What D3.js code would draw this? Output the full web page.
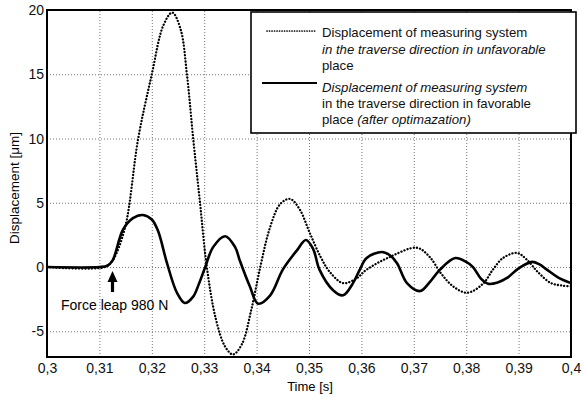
<!DOCTYPE html>
<html>
<head>
<meta charset="utf-8">
<script src="https://cdn.jsdelivr.net/npm/d3@7"></script>
<style>
  body { margin: 0; background: #fff; }
  svg { font-family: "Liberation Sans", Arial, sans-serif; }
  .grid line { stroke: #666; stroke-width: 0.9; stroke-dasharray: 1 2; }
  .grid path { display: none; }
  .axis path, .axis line { display: none; }
  .axis text { font-size: 14px; fill: #111; }
</style>
</head>
<body>
<div id="chart"></div>
<script>
const width = 585;
const height = 397;

// time ticks and displacement ticks
const timeTicks = [0.3, 0.31, 0.32, 0.33, 0.34, 0.35, 0.36, 0.37, 0.38, 0.39, 0.4];
const dispTicks = [-5, 0, 5, 10, 15, 20];

// unfavorable place (dotted)
const unfavT = [0.300, 0.311, 0.3125, 0.3149, 0.3174, 0.3200, 0.3222, 0.3239, 0.3255, 0.3267,
  0.3279, 0.3292, 0.3305, 0.3322, 0.3340, 0.3355, 0.3372, 0.3390, 0.3407, 0.3425,
  0.3445, 0.3464, 0.3482, 0.3502, 0.3522, 0.3540, 0.3565, 0.3590, 0.3610, 0.3655,
  0.3706, 0.3730, 0.3752, 0.3775, 0.3802, 0.3832, 0.3851, 0.3870, 0.3897, 0.3915,
  0.3937, 0.3962, 0.3985, 0.4];
const unfavY = [0, 0, 0.5, 3.1, 10, 15, 18.8, 19.8, 18.5, 15,
  10, 5, 0, -4, -6.2, -6.8, -6, -3.3, 0, 3,
  4.9, 5.3, 4.5, 2.6, 0.8, -0.4, -1.25, -0.9, -0.2, 0.8,
  1.5, 0.8, -0.5, -1.5, -2.0, -1.3, -0.2, 0.7, 1.1, 0.6,
  -0.4, -1.25, -1.45, -1.5];

// favorable place after optimization (solid)
const favT = [0.300, 0.310, 0.3115, 0.3125, 0.3145, 0.3164, 0.3183, 0.3200, 0.3212, 0.3229,
  0.3248, 0.3263, 0.3279, 0.3290, 0.3302, 0.3317, 0.3340, 0.3359, 0.3368, 0.3387,
  0.3403, 0.3426, 0.3450, 0.3477, 0.3494, 0.3508, 0.3520, 0.3546, 0.3565, 0.3584,
  0.3597, 0.3610, 0.3639, 0.3655, 0.3668, 0.3687, 0.3712, 0.3730, 0.3750, 0.3779,
  0.3800, 0.3813, 0.3828, 0.3842, 0.3860, 0.3878, 0.3900, 0.3926, 0.3940, 0.3954,
  0.3975, 0.4];
const favY = [0, 0, 0.1, 0.5, 2.9, 3.8, 4.05, 3.7, 2.8, 0.3,
  -2.0, -2.8, -2.3, -1.3, 0, 1.55, 2.4, 1.55, 0.5, -1.5,
  -2.85, -2.2, -0.2, 1.3, 2.1, 1.4, -0.2, -1.8, -2.2, -1.25,
  -0.2, 0.7, 1.17, 0.9, 0.3, -1.25, -1.87, -1.2, -0.2, 0.7,
  0.4, 0, -0.9, -1.3, -1.2, -0.85, -0.1, 0.4, 0.2, -0.2,
  -0.8, -1.25];

const unfav = unfavT.map((t, i) => ({ t, v: unfavY[i] }));
const fav = favT.map((t, i) => ({ t, v: favY[i] }));

const plot = { left: 47, right: 571, top: 10, bottom: 357 };

const svg = d3.select('#chart').append('svg')
  .attr('width', width)
  .attr('height', height);

const x = d3.scaleLinear().domain([0.3, 0.4]).range([plot.left, plot.right]);
const y = d3.scaleLinear().domain([-7, 20]).range([plot.bottom, plot.top]);

const comma = d3.formatLocale({ decimal: ',', thousands: '.', grouping: [3], currency: ['', ''] }).format('~g');

// grid
svg.append('g')
  .attr('class', 'grid')
  .attr('transform', `translate(0,${plot.bottom})`)
  .call(d3.axisBottom(x).tickValues(timeTicks.slice(1, -1)).tickSize(-(plot.bottom - plot.top)).tickFormat(''));

svg.append('g')
  .attr('class', 'grid')
  .attr('transform', `translate(${plot.left},0)`)
  .call(d3.axisLeft(y).tickValues(dispTicks.slice(0, -1)).tickSize(-(plot.right - plot.left)).tickFormat(''));

// axes labels
svg.append('g')
  .attr('class', 'axis')
  .attr('transform', `translate(0,${plot.bottom})`)
  .call(d3.axisBottom(x).tickValues(timeTicks).tickSize(0).tickPadding(6).tickFormat(comma));

svg.append('g')
  .attr('class', 'axis')
  .attr('transform', `translate(${plot.left},0)`)
  .call(d3.axisLeft(y).tickValues(dispTicks).tickSize(0).tickPadding(3).tickFormat(d => String(d)));

// curves
const line = d3.line()
  .x(d => x(d.t))
  .y(d => y(d.v))
  .curve(d3.curveCatmullRom.alpha(0.5));

svg.append('path')
  .datum(unfav)
  .attr('d', line)
  .attr('fill', 'none')
  .attr('stroke', '#000')
  .attr('stroke-width', 2.3)
  .attr('stroke-linecap', 'round')
  .attr('stroke-dasharray', '0.1 3.1');

svg.append('path')
  .datum(fav)
  .attr('d', line)
  .attr('fill', 'none')
  .attr('stroke', '#000')
  .attr('stroke-width', 2.6)
  .attr('stroke-linejoin', 'round');

// frame
svg.append('rect')
  .attr('x', plot.left)
  .attr('y', plot.top)
  .attr('width', plot.right - plot.left)
  .attr('height', plot.bottom - plot.top)
  .attr('fill', 'none')
  .attr('stroke', '#000')
  .attr('stroke-width', 2);

// legend
const lg = svg.append('g');
lg.append('rect')
  .attr('x', 251).attr('y', 12)
  .attr('width', 325).attr('height', 121)
  .attr('fill', '#fff')
  .attr('stroke', '#000')
  .attr('stroke-width', 1.6);

lg.append('line')
  .attr('x1', 267).attr('x2', 316).attr('y1', 31).attr('y2', 31)
  .attr('stroke', '#000').attr('stroke-width', 1.7)
  .attr('stroke-linecap', 'round').attr('stroke-dasharray', '0.1 2.4');
lg.append('line')
  .attr('x1', 262).attr('x2', 317).attr('y1', 83).attr('y2', 83)
  .attr('stroke', '#000').attr('stroke-width', 2);

const legendLines = [
  { y: 37, parts: [['Displacement of measuring system', 'normal']] },
  { y: 54, parts: [['in the traverse direction in unfavorable', 'italic']] },
  { y: 70, parts: [['place', 'normal']] },
  { y: 92, parts: [['Displacement of measuring system', 'italic']] },
  { y: 108, parts: [['in the traverse direction in favorable', 'normal']] },
  { y: 124, parts: [['place ', 'normal'], ['(after optimazation)', 'italic']] },
];
legendLines.forEach(l => {
  const t = lg.append('text')
    .attr('x', 322).attr('y', l.y)
    .attr('font-size', 13.2)
    .attr('fill', '#111');
  l.parts.forEach(p => t.append('tspan').attr('font-style', p[1]).text(p[0]));
});

// axis titles
svg.append('text')
  .attr('x', 310).attr('y', 391)
  .attr('text-anchor', 'middle')
  .attr('font-size', 13)
  .text('Time [s]');

svg.append('text')
  .attr('transform', 'translate(19,188) rotate(-90)')
  .attr('text-anchor', 'middle')
  .attr('font-size', 13.5)
  .text('Displacement [\u03bcm]');

// annotation arrow
const ax = x(0.3125);
svg.append('line')
  .attr('x1', ax).attr('x2', ax)
  .attr('y1', y(0) + 13).attr('y2', y(0) + 25)
  .attr('stroke', '#000').attr('stroke-width', 3.2);
svg.append('path')
  .attr('d', `M${ax},${y(0) + 4}L${ax - 5},${y(0) + 15}L${ax + 5},${y(0) + 15}Z`)
  .attr('fill', '#000');
svg.append('text')
  .attr('x', 61).attr('y', 310)
  .attr('font-size', 14)
  .text('Force leap 980 N');
</script>
</body>
</html>
